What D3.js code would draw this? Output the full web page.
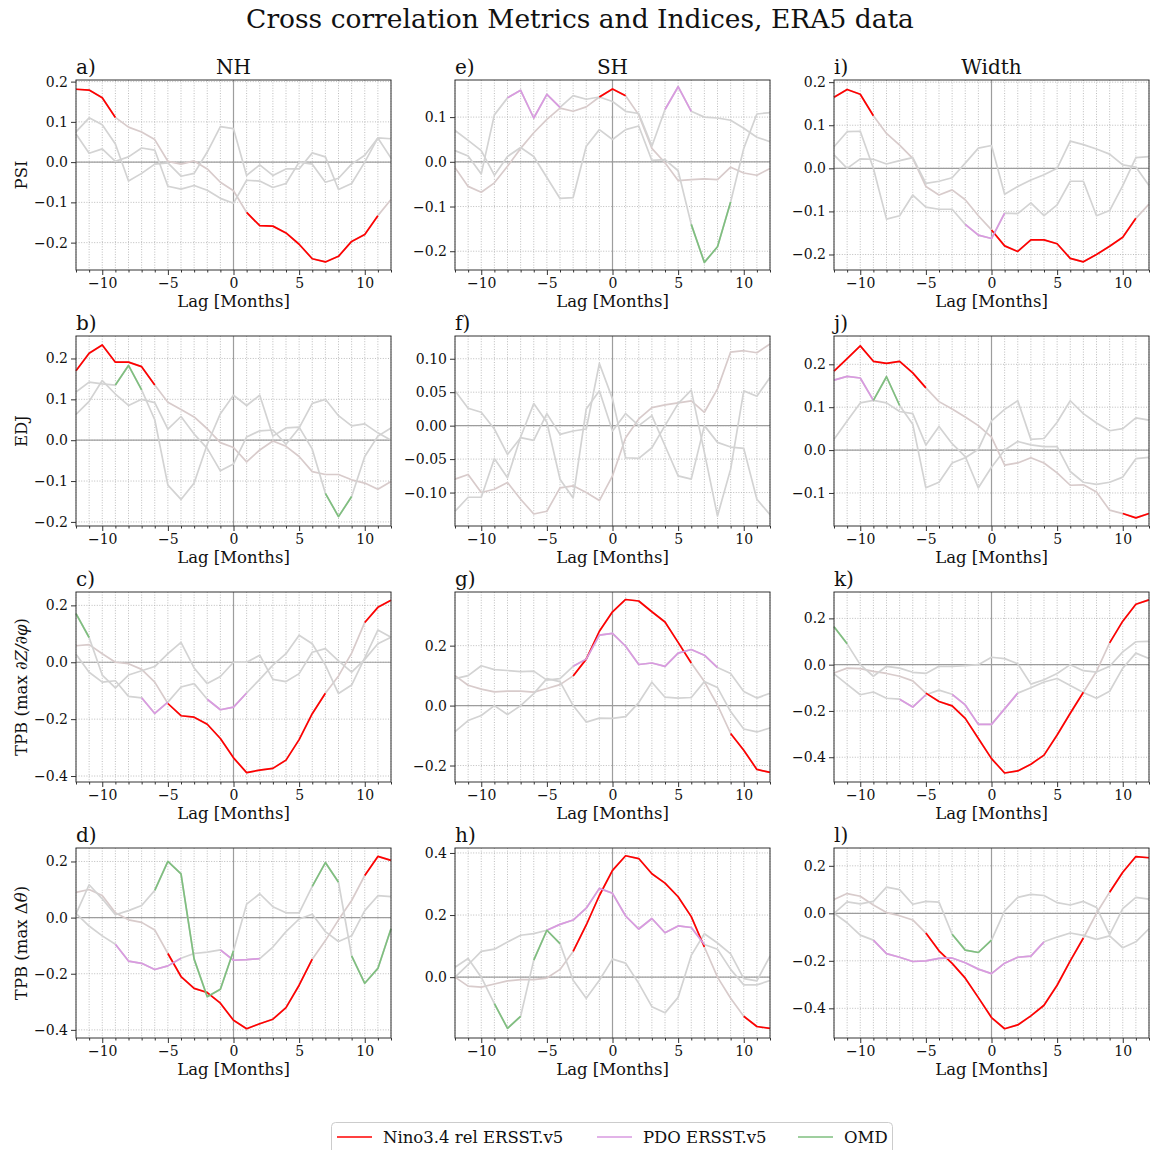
<!DOCTYPE html>
<html><head><meta charset="utf-8">
<script src="https://cdn.jsdelivr.net/npm/d3@7"></script>
<style>
html,body{margin:0;padding:0;background:#fff;}
svg text{font-family:"DejaVu Serif",serif;fill:#111;}
</style></head><body>
<svg id="chart" width="1150" height="1150"></svg>
<script>
// ---------------- DATA ----------------
const lags = [-12,-11,-10,-9,-8,-7,-6,-5,-4,-3,-2,-1,0,1,2,3,4,5,6,7,8,9,10,11,12];
const xTicks = [-10,-5,0,5,10];
const seriesNames = ["Nino3.4 rel ERSST.v5","PDO ERSST.v5","OMD"];
const columnTitles = ["NH","SH","Width"];
const rowLabels = ["PSI","EDJ","TPB (max ∂Z/∂φ)","TPB (max Δθ)"];
const figTitle = "Cross correlation Metrics and Indices, ERA5 data";

// a) PSI NH
const a_nino = [0.181,0.179,0.160,0.111,0.087,0.075,0.056,0.002,-0.005,0.003,-0.017,-0.050,-0.071,-0.125,-0.158,-0.159,-0.176,-0.204,-0.240,-0.248,-0.234,-0.197,-0.180,-0.133,-0.093];
const a_pdo  = [0.075,0.110,0.093,0.045,-0.047,-0.028,-0.005,-0.002,-0.035,-0.028,0.025,0.088,0.083,-0.033,-0.007,-0.033,-0.017,-0.017,0.023,0.013,-0.068,-0.053,0.000,0.060,0.058];
const a_omd  = [0.070,0.022,0.033,0.002,0.013,0.035,0.030,-0.060,-0.067,-0.058,-0.070,-0.090,-0.102,-0.045,-0.047,-0.063,-0.053,0.000,-0.005,-0.050,-0.040,-0.005,0.017,0.060,0.010];
const a_sig  = [[[-12,-9],[1,11]], [], []];
const a_yDomain = [-0.268, 0.204];
const a_yTicks = [-0.2,-0.1,0,0.1,0.2];

// b) EDJ NH
const b_nino = [0.170,0.213,0.233,0.191,0.191,0.180,0.135,0.093,0.075,0.057,0.028,-0.006,-0.018,-0.053,-0.024,-0.002,-0.015,-0.040,-0.077,-0.084,-0.084,-0.097,-0.105,-0.120,-0.101];
const b_pdo  = [0.063,0.095,0.146,0.113,0.085,0.100,0.092,0.027,0.058,0.015,-0.020,-0.075,-0.058,0.008,0.023,0.025,-0.010,0.030,0.090,0.100,0.060,0.035,0.040,0.018,0.000];
const b_omd  = [0.118,0.142,0.138,0.135,0.183,0.123,0.050,-0.110,-0.145,-0.105,-0.010,0.065,0.110,0.085,0.110,0.010,0.030,0.032,-0.022,-0.130,-0.187,-0.138,-0.040,0.010,0.030];
const b_sig  = [[[-12,-6]], [], [[-9,-7],[7,9]]];
const b_yDomain = [-0.210, 0.255];
const b_yTicks = [-0.2,-0.1,0,0.1,0.2];

// c) TPB dZ NH
const c_nino = [0.058,0.062,0.030,0.000,-0.005,-0.025,-0.070,-0.145,-0.188,-0.193,-0.218,-0.268,-0.336,-0.388,-0.379,-0.373,-0.344,-0.272,-0.181,-0.109,-0.048,0.032,0.140,0.193,0.218];
const c_pdo  = [0.028,-0.035,-0.070,-0.065,-0.120,-0.125,-0.180,-0.140,-0.087,-0.075,-0.130,-0.167,-0.158,-0.108,-0.060,-0.010,0.030,0.095,0.065,-0.010,-0.110,-0.080,0.015,0.113,0.088];
const c_omd  = [0.171,0.087,-0.045,-0.090,-0.045,-0.030,-0.015,0.030,0.070,-0.020,-0.075,-0.050,0.000,0.000,0.025,-0.060,-0.068,-0.040,0.035,0.048,0.005,-0.035,0.010,0.065,0.088];
const c_sig  = [[[-5,7],[10,12]], [[-7,-5],[-2,1]], [[-12,-11]]];
const c_yDomain = [-0.421, 0.247];
const c_yTicks = [-0.4,-0.2,0,0.2];

// d) TPB dTheta NH
const d_nino = [0.090,0.100,0.079,0.017,-0.008,-0.017,-0.044,-0.128,-0.210,-0.252,-0.267,-0.305,-0.366,-0.396,-0.378,-0.362,-0.321,-0.241,-0.148,-0.082,-0.008,0.061,0.150,0.218,0.204];
const d_pdo  = [0.015,-0.030,-0.065,-0.095,-0.155,-0.163,-0.185,-0.172,-0.145,-0.128,-0.123,-0.115,-0.152,-0.150,-0.146,-0.105,-0.050,-0.005,0.012,-0.050,-0.085,-0.065,0.025,0.078,0.075];
const d_omd  = [0.013,0.117,0.067,0.010,0.025,0.043,0.097,0.200,0.156,-0.148,-0.282,-0.255,-0.118,0.048,0.085,0.039,0.017,0.017,0.111,0.196,0.126,-0.136,-0.234,-0.181,-0.040];
const d_sig  = [[[-5,6],[10,12]], [[-9,-4],[-1,2]], [[-6,0],[6,8],[9,12]]];
const d_yDomain = [-0.429, 0.248];
const d_yTicks = [-0.4,-0.2,0,0.2];

// e) PSI SH
const e_nino = [-0.013,-0.055,-0.068,-0.047,-0.010,0.030,0.065,0.095,0.120,0.113,0.123,0.145,0.163,0.148,0.105,0.030,-0.002,-0.042,-0.040,-0.038,-0.040,-0.012,-0.025,-0.030,-0.015];
const e_pdo  = [0.025,0.013,-0.027,0.105,0.143,0.160,0.098,0.151,0.122,0.148,0.140,0.145,0.135,0.113,0.108,0.035,0.117,0.168,0.113,0.100,0.098,0.093,0.075,0.055,0.045];
const e_omd  = [0.070,0.048,0.025,-0.030,0.012,0.032,0.012,-0.035,-0.082,-0.080,0.035,0.072,0.050,0.072,0.080,0.003,0.005,-0.020,-0.140,-0.225,-0.190,-0.090,0.030,0.107,0.110];
const e_sig  = [[[-1,1]], [[-8,-4],[4,6]], [[6,9]]];
const e_yDomain = [-0.242, 0.183];
const e_yTicks = [-0.2,-0.1,0,0.1];

// f) EDJ SH
const f_nino = [-0.080,-0.073,-0.100,-0.095,-0.085,-0.110,-0.132,-0.128,-0.093,-0.090,-0.100,-0.112,-0.075,-0.018,0.010,0.027,0.031,0.034,0.037,0.020,0.055,0.110,0.112,0.109,0.122];
const f_pdo  = [0.052,0.026,0.020,-0.005,-0.043,-0.018,-0.022,0.018,-0.013,-0.008,-0.005,0.093,0.040,-0.048,-0.049,-0.033,0.000,0.033,0.053,-0.040,-0.135,-0.065,0.052,0.044,0.072];
const f_omd  = [-0.128,-0.107,-0.107,-0.049,-0.078,-0.017,0.033,0.005,-0.080,-0.108,0.025,0.052,-0.008,0.018,0.000,0.015,-0.030,-0.075,-0.080,0.000,-0.025,-0.032,-0.034,-0.110,-0.133];
const f_sig  = [[], [], []];
const f_yDomain = [-0.150, 0.134];
const f_yTicks = [-0.10,-0.05,0,0.05,0.10];

// g) TPB dZ SH
const g_nino = [0.100,0.068,0.055,0.046,0.048,0.048,0.045,0.057,0.070,0.099,0.155,0.248,0.313,0.354,0.349,0.313,0.279,0.211,0.142,0.080,0.002,-0.093,-0.149,-0.213,-0.223];
const g_pdo  = [0.090,0.100,0.133,0.120,0.117,0.113,0.115,0.085,0.090,0.131,0.155,0.235,0.241,0.198,0.137,0.142,0.131,0.175,0.187,0.168,0.127,0.107,0.047,0.025,0.041];
const g_omd  = [-0.087,-0.050,-0.033,0.000,-0.030,0.000,0.040,0.090,0.080,0.000,-0.055,-0.042,-0.043,-0.037,0.010,0.078,0.028,0.025,0.027,0.080,0.060,-0.020,-0.078,-0.088,-0.075];
const g_sig  = [[[-3,6],[9,12]], [[-3,8]], []];
const g_yDomain = [-0.255, 0.379];
const g_yTicks = [-0.2,0,0.2];

// h) TPB dTheta SH
const h_nino = [0.000,-0.029,-0.032,-0.022,-0.012,-0.008,-0.008,-0.003,0.025,0.083,0.168,0.263,0.344,0.391,0.382,0.333,0.303,0.259,0.195,0.097,0.000,-0.068,-0.126,-0.159,-0.165];
const h_pdo  = [0.000,0.040,0.083,0.090,0.113,0.135,0.140,0.151,0.170,0.184,0.222,0.286,0.270,0.197,0.155,0.189,0.143,0.165,0.160,0.105,0.090,0.025,-0.025,-0.025,-0.011];
const h_omd  = [0.032,0.060,0.000,-0.085,-0.165,-0.126,0.055,0.151,0.108,-0.010,-0.068,-0.010,0.058,0.045,-0.020,-0.095,-0.115,-0.065,0.070,0.140,0.110,0.075,-0.005,-0.012,0.068];
const h_sig  = [[[-3,7],[10,12]], [[-5,7]], [[-9,-7],[-6,-4]]];
const h_yDomain = [-0.196, 0.416];
const h_yTicks = [0,0.2,0.4];

// i) PSI Width
const i_nino = [0.165,0.183,0.172,0.122,0.081,0.054,0.023,-0.042,-0.062,-0.050,-0.073,-0.110,-0.143,-0.180,-0.193,-0.166,-0.166,-0.175,-0.209,-0.217,-0.200,-0.181,-0.160,-0.116,-0.083];
const i_pdo  = [0.050,0.085,0.086,0.000,-0.118,-0.110,-0.062,-0.090,-0.095,-0.095,-0.130,-0.155,-0.163,-0.104,-0.105,-0.080,-0.110,-0.085,-0.030,-0.030,-0.110,-0.098,-0.040,0.025,0.027];
const i_omd  = [0.031,0.000,0.022,0.021,0.010,0.018,0.025,-0.035,-0.030,-0.022,0.012,0.047,0.053,-0.060,-0.042,-0.027,-0.015,0.000,0.063,0.055,0.045,0.033,0.008,0.003,-0.040];
const i_sig  = [[[-12,-9],[0,11]], [[-2,1]], []];
const i_yDomain = [-0.236, 0.205];
const i_yTicks = [-0.2,-0.1,0,0.1,0.2];

// j) EDJ Width
const j_nino = [0.184,0.213,0.243,0.207,0.202,0.207,0.180,0.145,0.113,0.096,0.077,0.057,0.030,-0.035,-0.030,-0.018,-0.030,-0.053,-0.082,-0.081,-0.098,-0.140,-0.148,-0.158,-0.148];
const j_pdo  = [0.163,0.172,0.168,0.116,0.110,0.090,0.085,0.012,0.055,0.015,-0.015,-0.088,-0.040,0.000,0.020,0.012,0.008,0.008,-0.050,-0.075,-0.080,-0.075,-0.063,-0.020,-0.017];
const j_omd  = [0.025,0.068,0.110,0.116,0.171,0.104,0.060,-0.088,-0.075,-0.030,-0.018,0.002,0.068,0.095,0.115,0.025,0.027,0.065,0.115,0.085,0.063,0.045,0.050,0.075,0.070];
const j_sig  = [[[-12,-5],[10,12]], [[-12,-9]], [[-9,-7]]];
const j_yDomain = [-0.177, 0.266];
const j_yTicks = [-0.1,0,0.1,0.2];

// k) TPB dZ Width
const k_nino = [-0.036,-0.015,-0.017,-0.029,-0.038,-0.050,-0.070,-0.123,-0.159,-0.178,-0.232,-0.319,-0.406,-0.468,-0.459,-0.430,-0.391,-0.304,-0.210,-0.119,-0.029,0.094,0.188,0.261,0.280];
const k_pdo  = [-0.040,-0.085,-0.130,-0.118,-0.145,-0.149,-0.183,-0.130,-0.110,-0.128,-0.174,-0.258,-0.258,-0.191,-0.123,-0.100,-0.075,-0.060,-0.090,-0.120,-0.145,-0.115,-0.015,0.050,0.027];
const k_omd  = [0.164,0.090,0.000,-0.050,-0.007,-0.015,-0.033,-0.038,-0.007,-0.007,-0.004,0.000,0.032,0.026,0.004,-0.084,-0.065,-0.038,0.000,-0.026,-0.032,-0.007,0.055,0.099,0.101];
const k_sig  = [[[-5,7],[9,12]], [[-7,-5],[-3,2]], [[-12,-11]]];
const k_yDomain = [-0.507, 0.314];
const k_yTicks = [-0.4,-0.2,0,0.2];

// l) TPB dTheta Width
const l_nino = [0.058,0.083,0.072,0.035,0.003,-0.010,-0.028,-0.083,-0.158,-0.211,-0.273,-0.355,-0.439,-0.486,-0.470,-0.432,-0.387,-0.303,-0.200,-0.104,0.000,0.089,0.173,0.239,0.234];
const l_pdo  = [0.000,-0.040,-0.092,-0.113,-0.170,-0.185,-0.203,-0.200,-0.190,-0.188,-0.208,-0.235,-0.254,-0.210,-0.185,-0.180,-0.120,-0.100,-0.083,-0.093,-0.110,-0.095,-0.145,-0.120,-0.065];
const l_omd  = [0.000,0.048,0.040,0.050,0.110,0.100,0.038,0.050,0.047,-0.088,-0.155,-0.165,-0.113,0.010,0.067,0.080,0.075,0.045,0.035,0.050,0.025,-0.090,0.020,0.067,0.060];
const l_sig  = [[[-5,7],[9,12]], [[-9,4]], [[-3,0]]];
const l_yDomain = [-0.525, 0.275];
const l_yTicks = [-0.4,-0.2,0,0.2];

// ---------------- PANEL TABLE (built from the arrays) ----------------
const panels = [
  {id:"a", col:0,row:0, s:[a_nino,a_pdo,a_omd], sig:a_sig, yd:a_yDomain, yt:a_yTicks, fmt:".1f"},
  {id:"b", col:0,row:1, s:[b_nino,b_pdo,b_omd], sig:b_sig, yd:b_yDomain, yt:b_yTicks, fmt:".1f"},
  {id:"c", col:0,row:2, s:[c_nino,c_pdo,c_omd], sig:c_sig, yd:c_yDomain, yt:c_yTicks, fmt:".1f"},
  {id:"d", col:0,row:3, s:[d_nino,d_pdo,d_omd], sig:d_sig, yd:d_yDomain, yt:d_yTicks, fmt:".1f"},
  {id:"e", col:1,row:0, s:[e_nino,e_pdo,e_omd], sig:e_sig, yd:e_yDomain, yt:e_yTicks, fmt:".1f"},
  {id:"f", col:1,row:1, s:[f_nino,f_pdo,f_omd], sig:f_sig, yd:f_yDomain, yt:f_yTicks, fmt:".2f"},
  {id:"g", col:1,row:2, s:[g_nino,g_pdo,g_omd], sig:g_sig, yd:g_yDomain, yt:g_yTicks, fmt:".1f"},
  {id:"h", col:1,row:3, s:[h_nino,h_pdo,h_omd], sig:h_sig, yd:h_yDomain, yt:h_yTicks, fmt:".1f"},
  {id:"i", col:2,row:0, s:[i_nino,i_pdo,i_omd], sig:i_sig, yd:i_yDomain, yt:i_yTicks, fmt:".1f"},
  {id:"j", col:2,row:1, s:[j_nino,j_pdo,j_omd], sig:j_sig, yd:j_yDomain, yt:j_yTicks, fmt:".1f"},
  {id:"k", col:2,row:2, s:[k_nino,k_pdo,k_omd], sig:k_sig, yd:k_yDomain, yt:k_yTicks, fmt:".1f"},
  {id:"l", col:2,row:3, s:[l_nino,l_pdo,l_omd], sig:l_sig, yd:l_yDomain, yt:l_yTicks, fmt:".1f"}
];

// ---------------- STYLE / LAYOUT ----------------
const sigColors = ["#ff0000","#d99ae0","#7fbf7f"];
const greyColors = ["#d8cbcb","#d3d3d3","#d3d3d3"];
const colLeft = [76,455,834], rowTop = [80,336,592,848];
const pw = 315, ph = 190;
const LW = 1.7;

const svg = d3.select("#chart");
svg.append("rect").attr("width",1150).attr("height",1150).attr("fill","#fff");

svg.append("text").attr("x",580).attr("y",28).attr("text-anchor","middle")
  .style("font-size","26.5px").text(figTitle);

panels.forEach(p => {
  const g = svg.append("g").attr("transform",`translate(${colLeft[p.col]},${rowTop[p.row]})`);
  const x = d3.scaleLinear().domain([-12,12]).range([0,pw]);
  const y = d3.scaleLinear().domain(p.yd).range([ph,0]);

  g.selectAll(".vg").data(lags).enter().append("line")
    .attr("x1",d=>x(d)).attr("x2",d=>x(d)).attr("y1",0).attr("y2",ph)
    .attr("stroke","#b5b5b5").attr("stroke-width",0.9).attr("stroke-dasharray","1,1.6");
  g.selectAll(".hg").data(p.yt).enter().append("line")
    .attr("x1",0).attr("x2",pw).attr("y1",d=>y(d)).attr("y2",d=>y(d))
    .attr("stroke","#b5b5b5").attr("stroke-width",0.9).attr("stroke-dasharray","1,1.6");
  g.append("line").attr("x1",x(0)).attr("x2",x(0)).attr("y1",0).attr("y2",ph)
    .attr("stroke","#9d9d9d").attr("stroke-width",1.2);
  g.append("line").attr("x1",0).attr("x2",pw).attr("y1",y(0)).attr("y2",y(0))
    .attr("stroke","#9d9d9d").attr("stroke-width",1.2);

  const line = d3.line().x(d=>x(d.lag)).y(d=>y(d.v));
  const data = p.s.map(arr => lags.map((l,i)=>({lag:l, v:arr[i]})));
  data.forEach((pts,si) => {
    g.append("path").attr("d",line(pts)).attr("fill","none")
      .attr("stroke",greyColors[si]).attr("stroke-width",LW).attr("stroke-linejoin","round");
  });
  data.forEach((pts,si) => {
    p.sig[si].forEach(r => {
      const seg = pts.filter(d => d.lag>=r[0] && d.lag<=r[1]);
      g.append("path").attr("d",line(seg)).attr("fill","none")
        .attr("stroke",sigColors[si]).attr("stroke-width",LW).attr("stroke-linejoin","round");
    });
  });

  g.append("rect").attr("x",0).attr("y",0).attr("width",pw).attr("height",ph)
    .attr("fill","none").attr("stroke","#333").attr("stroke-width",1);

  const xa = g.append("g").attr("transform",`translate(0,${ph})`)
    .call(d3.axisBottom(x).tickValues(xTicks).tickSize(5).tickPadding(3).tickFormat(d3.format("d")));
  const xm = g.append("g").attr("transform",`translate(0,${ph})`)
    .call(d3.axisBottom(x).tickValues(lags.filter(l=>!xTicks.includes(l))).tickSize(2.5).tickFormat(""));
  const ya = g.append("g")
    .call(d3.axisLeft(y).tickValues(p.yt).tickSize(5).tickPadding(3).tickFormat(d3.format(p.fmt)));
  [xa,xm,ya].forEach(ax => {
    ax.select(".domain").remove();
    ax.selectAll("line").attr("stroke","#333");
    ax.selectAll("text").style("font-size","14px").style("font-family","DejaVu Serif").attr("fill","#111");
  });

  g.append("text").attr("x",pw/2).attr("y",ph+37).attr("text-anchor","middle")
    .style("font-size","16.5px").text("Lag [Months]");
  g.append("text").attr("x",0).attr("y",-6).style("font-size","20px").text(p.id+")");
  if (p.row===0) {
    g.append("text").attr("x",pw/2).attr("y",-6).attr("text-anchor","middle")
      .style("font-size","20px").text(columnTitles[p.col]);
  }
  if (p.col===0) {
    const t = g.append("text").attr("transform",`translate(-49,${ph/2}) rotate(-90)`)
      .attr("text-anchor","middle").style("font-size","16.5px");
    if (p.row===2) {
      t.append("tspan").text("TPB (max ");
      t.append("tspan").style("font-style","italic").text("∂Z/∂φ");
      t.append("tspan").text(")");
    } else if (p.row===3) {
      t.append("tspan").text("TPB (max Δ");
      t.append("tspan").style("font-style","italic").text("θ");
      t.append("tspan").text(")");
    } else {
      t.text(rowLabels[p.row]);
    }
  }
});

// legend
const leg = svg.append("g");
leg.append("rect").attr("x",331.5).attr("y",1122.5).attr("width",561).attr("height",40).attr("rx",4)
  .attr("fill","#fff").attr("stroke","#cccccc").attr("stroke-width",1);
const legX = [337,597,798];
seriesNames.forEach((n,i) => {
  leg.append("line").attr("x1",legX[i]).attr("x2",legX[i]+35).attr("y1",1137).attr("y2",1137)
    .attr("stroke",sigColors[i]).attr("stroke-width",LW);
  leg.append("text").attr("x",legX[i]+46).attr("y",1143).style("font-size","16.5px").text(n);
});
</script>
</body></html>
